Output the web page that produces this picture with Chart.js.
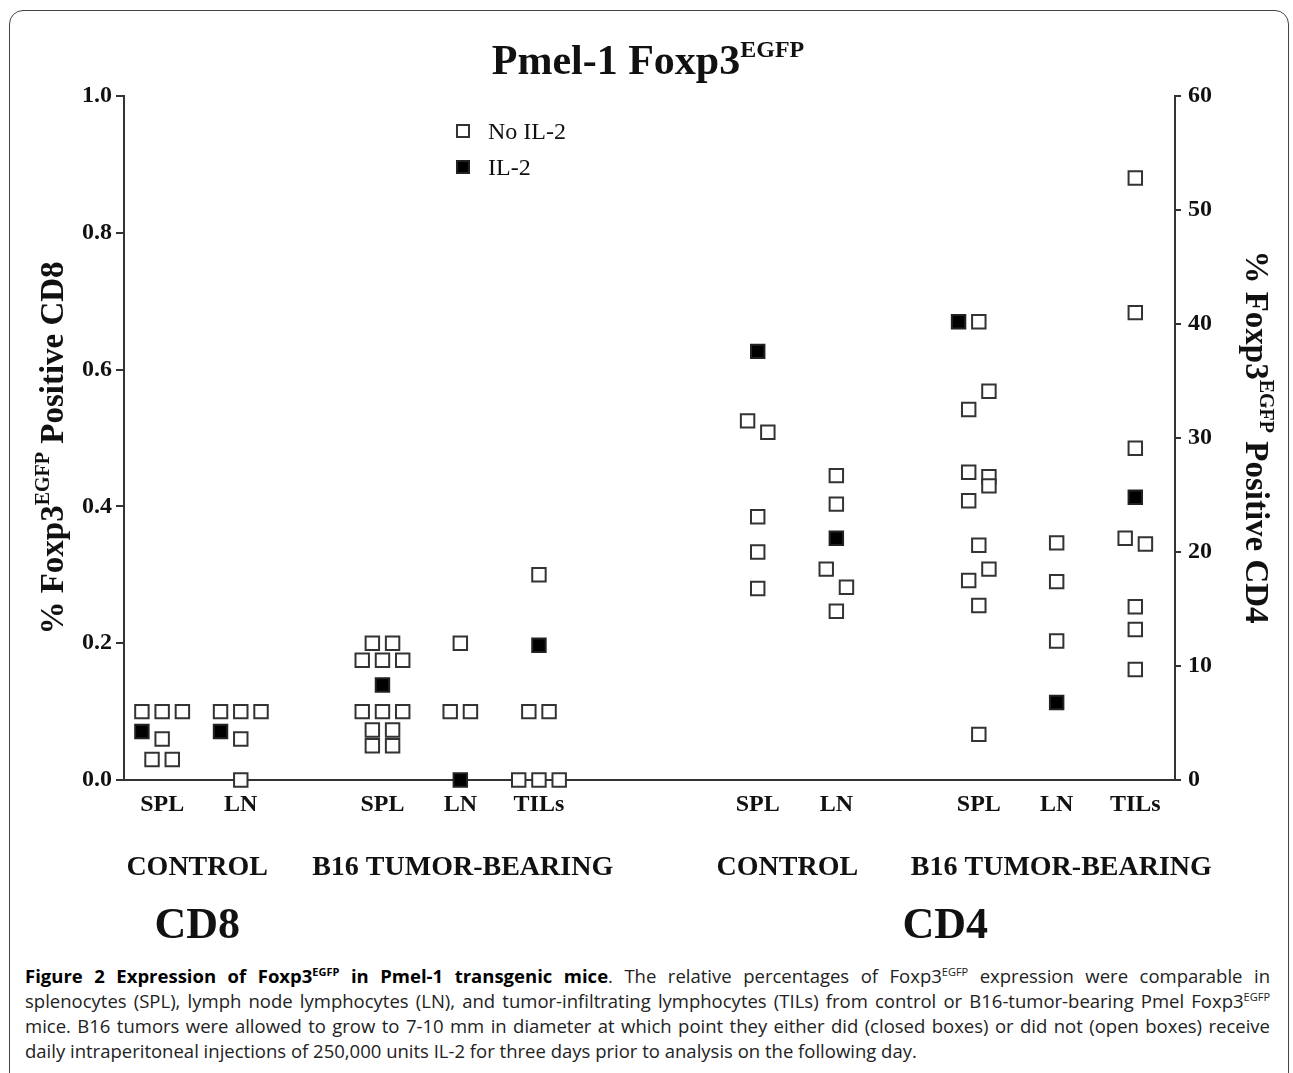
<!DOCTYPE html>
<html>
<head>
<meta charset="utf-8">
<script src="https://cdn.jsdelivr.net/npm/chart.js@4.4.1/dist/chart.umd.min.js"></script>
<style>
  html, body { margin: 0; padding: 0; background: #fff; }
  body { width: 1293px; height: 1073px; position: relative; overflow: hidden; }
  #frame { position: absolute; left: 9px; top: 10px; width: 1280px; height: 1100px;
           border: 1.5px solid #444; border-radius: 14px; box-sizing: border-box; }
  #fig { position: absolute; left: 0; top: 0; }
  #caption { position: absolute; left: 25px; top: 963px; width: 1245px;
             font-family: "Open Sans", sans-serif; font-size: 18.5px; line-height: 25px; color: #222; }
  #caption .ln { text-align: justify; text-align-last: justify; }
  #caption .last { text-align: left; text-align-last: left; }
  #caption b { color: #000; }
  #caption sup { font-size: 11px; line-height: 0; vertical-align: 7px; }
</style>
</head>
<body>
<div id="frame"></div>
<canvas id="fig" width="1293" height="960"></canvas>
<div id="caption">
  <div class="ln"><b>Figure 2 Expression of Foxp3<sup>EGFP</sup> in Pmel-1 transgenic mice</b>. The relative percentages of Foxp3<sup>EGFP</sup> expression were comparable in</div>
  <div class="ln">splenocytes (SPL), lymph node lymphocytes (LN), and tumor-infiltrating lymphocytes (TILs) from control or B16-tumor-bearing Pmel Foxp3<sup>EGFP</sup></div>
  <div class="ln">mice. B16 tumors were allowed to grow to 7-10 mm in diameter at which point they either did (closed boxes) or did not (open boxes) receive</div>
  <div class="ln last">daily intraperitoneal injections of 250,000 units IL-2 for three days prior to analysis on the following day.</div>
</div>
<script>
// categories along the x axis (CD8 block, then CD4 block)
const categories = ['SPL', 'LN', 'SPL', 'LN', 'TILs', 'SPL', 'LN', 'SPL', 'LN', 'TILs'];
const categoryPos = [0.49, 1.50, 3.32, 4.32, 5.33, 8.14, 9.15, 10.98, 11.98, 12.99];
const groupLabels = ['CONTROL', 'B16 TUMOR-BEARING', 'CONTROL', 'B16 TUMOR-BEARING'];
const groupPos = [0.94, 4.35, 8.52, 12.04];
const cellLabels = ['CD8', 'CD4'];
const cellPos = [0.94, 10.55];
const leftTicks = [0, 0.2, 0.4, 0.6, 0.8, 1.0];
const rightTicks = [0, 10, 20, 30, 40, 50, 60];
const jitter = 0.26;

// CD8, % Foxp3 positive (left axis), one list per category 0..4
const cd8NoIL2 = [
  [0.1, 0.1, 0.1, 0.06, 0.03, 0.03],
  [0.1, 0.1, 0.1, 0.06, 0.0],
  [0.2, 0.2, 0.175, 0.175, 0.175, 0.1, 0.1, 0.1, 0.073, 0.073, 0.05, 0.05],
  [0.2, 0.1, 0.1],
  [0.3, 0.1, 0.1, 0.0, 0.0, 0.0]
];
const cd8NoIL2Slot = [
  [-1, 0, 1, 0, -0.5, 0.5],
  [-1, 0, 1, 0, 0],
  [-0.5, 0.5, -1, 0, 1, -1, 0, 1, -0.5, 0.5, -0.5, 0.5],
  [0, -0.5, 0.5],
  [0, -0.5, 0.5, -1, 0, 1]
];
const cd8IL2 = [0.071, 0.071, 0.139, 0.0, 0.197];
const cd8IL2Slot = [-1, -1, 0, 0, 0];

// CD4, % Foxp3 positive (right axis), one list per category 5..9
const cd4NoIL2 = [
  [31.5, 30.5, 23.1, 20.0, 16.8],
  [26.7, 24.2, 18.5, 16.9, 14.8],
  [40.2, 34.1, 32.5, 27.0, 26.6, 25.8, 24.5, 20.6, 18.5, 17.5, 15.3, 4.0],
  [20.8, 17.4, 12.2],
  [52.8, 41.0, 29.1, 21.2, 20.7, 15.2, 13.2, 9.7]
];
const cd4NoIL2Slot = [
  [-0.5, 0.5, 0, 0, 0],
  [0, 0, -0.5, 0.5, 0],
  [0, 0.5, -0.5, -0.5, 0.5, 0.5, -0.5, 0, 0.5, -0.5, 0, 0],
  [0, 0, 0],
  [0, 0, 0, -0.5, 0.5, 0, 0, 0]
];
const cd4IL2 = [37.6, 21.2, 40.2, 6.8, 24.8];
const cd4IL2Slot = [0, 0, -1, 0, 0];

function spread(lists, slots, first) {
  const pts = [];
  lists.forEach((vals, i) => {
    vals.forEach((v, j) => pts.push({ x: categoryPos[first + i] + slots[i][j] * jitter, y: v }));
  });
  return pts;
}
function single(vals, slots, first) {
  return vals.map((v, i) => ({ x: categoryPos[first + i] + slots[i] * jitter, y: v }));
}

const openBox = { pointStyle: 'rect', radius: 9.5, backgroundColor: '#fff', borderColor: '#333', borderWidth: 2 };
const fullBox = { pointStyle: 'rect', radius: 9.5, backgroundColor: '#000', borderColor: '#222', borderWidth: 2 };
const serif = 'Liberation Serif';

function drawRich(ctx, parts, x, y, angle) {
  ctx.save();
  ctx.translate(x, y);
  ctx.rotate(angle || 0);
  let w = 0;
  parts.forEach(p => { ctx.font = p.font; w += ctx.measureText(p.text).width; });
  let cx = -w / 2;
  ctx.textAlign = 'left';
  ctx.textBaseline = 'alphabetic';
  ctx.fillStyle = '#111';
  parts.forEach(p => {
    ctx.font = p.font;
    ctx.fillText(p.text, cx, -(p.rise || 0));
    cx += ctx.measureText(p.text).width;
  });
  ctx.restore();
}

const textPlugin = {
  id: 'texts',
  afterDraw(chart) {
    const ctx = chart.ctx;
    const xs = chart.scales.x;
    // title
    drawRich(ctx, [
      { text: 'Pmel-1 Foxp3', font: 'bold 42px ' + serif },
      { text: 'EGFP', font: 'bold 24px ' + serif, rise: 17 }
    ], 648, 74);
    // axis titles
    const yTitle = (cell) => [
      { text: '% Foxp3', font: 'bold 33px ' + serif },
      { text: 'EGFP', font: 'bold 20px ' + serif, rise: 14 },
      { text: ' Positive ' + cell, font: 'bold 33px ' + serif }
    ];
    drawRich(ctx, yTitle('CD8'), 63, 448, -Math.PI / 2);
    drawRich(ctx, yTitle('CD4'), 1246, 437, Math.PI / 2);
    // legend
    const lx = 463;
    ctx.save();
    ctx.fillStyle = '#fff'; ctx.strokeStyle = '#333'; ctx.lineWidth = 2;
    Chart.helpers.drawPoint(ctx, { pointStyle: 'rect', radius: 8.5, borderWidth: 2 }, lx, 131);
    ctx.fillStyle = '#000'; ctx.strokeStyle = '#222';
    Chart.helpers.drawPoint(ctx, { pointStyle: 'rect', radius: 8.5, borderWidth: 2 }, lx, 167);
    ctx.fillStyle = '#111';
    ctx.font = '24px ' + serif;
    ctx.textAlign = 'left';
    ctx.textBaseline = 'alphabetic';
    ctx.fillText('No IL-2', lx + 25, 139);
    ctx.fillText('IL-2', lx + 25, 175);
    // group labels under the categories
    ctx.font = 'bold 28px ' + serif;
    ctx.textAlign = 'center';
    groupLabels.forEach((g, i) => ctx.fillText(g, xs.getPixelForValue(groupPos[i]), 875));
    ctx.font = 'bold 44px ' + serif;
    cellLabels.forEach((t, i) => ctx.fillText(t, xs.getPixelForValue(cellPos[i]), 938));
    ctx.restore();
  }
};

const tickFont = { family: serif, weight: 'bold', size: 24 };

new Chart(document.getElementById('fig'), {
  type: 'scatter',
  data: {
    datasets: [
      Object.assign({ label: 'IL-2', data: single(cd8IL2, cd8IL2Slot, 0), yAxisID: 'y', clip: false }, fullBox),
      Object.assign({ label: 'IL-2', data: single(cd4IL2, cd4IL2Slot, 5), yAxisID: 'y2', clip: false }, fullBox),
      Object.assign({ label: 'No IL-2', data: spread(cd8NoIL2, cd8NoIL2Slot, 0), yAxisID: 'y', clip: false }, openBox),
      Object.assign({ label: 'No IL-2', data: spread(cd4NoIL2, cd4NoIL2Slot, 5), yAxisID: 'y2', clip: false }, openBox)
    ]
  },
  options: {
    responsive: false,
    animation: false,
    devicePixelRatio: 1,
    layout: { padding: { top: 96, left: 0, right: 0, bottom: 0 } },
    plugins: { legend: { display: false }, tooltip: { enabled: false } },
    scales: {
      x: {
        type: 'linear', min: 0, max: 13.5,
        afterBuildTicks: s => { s.ticks = categoryPos.map(v => ({ value: v })); },
        afterFit: s => { s.height = 960 - 780; },
        ticks: { autoSkip: false, maxRotation: 0, padding: 10, color: '#111', font: tickFont,
                 callback: (v, i) => categories[i] },
        grid: { display: false, drawTicks: false },
        border: { display: true, color: '#333', width: 2 }
      },
      y: {
        position: 'left', min: 0, max: 1,
        afterBuildTicks: s => { s.ticks = leftTicks.map(v => ({ value: v })); },
        afterFit: s => { s.width = 124; },
        ticks: { padding: 4, color: '#111', font: tickFont, callback: v => v.toFixed(1) },
        grid: { drawOnChartArea: false, drawTicks: true, tickLength: 8, color: '#333', lineWidth: 2 },
        border: { display: true, color: '#333', width: 2 }
      },
      y2: {
        position: 'right', min: 0, max: 60,
        afterBuildTicks: s => { s.ticks = rightTicks.map(v => ({ value: v })); },
        afterFit: s => { s.width = 1293 - 1175; },
        ticks: { padding: 7, color: '#111', font: tickFont, callback: v => String(v) },
        grid: { drawOnChartArea: false, drawTicks: true, tickLength: 6, color: '#333', lineWidth: 2 },
        border: { display: true, color: '#333', width: 2 }
      }
    }
  },
  plugins: [textPlugin]
});
</script>
</body>
</html>
